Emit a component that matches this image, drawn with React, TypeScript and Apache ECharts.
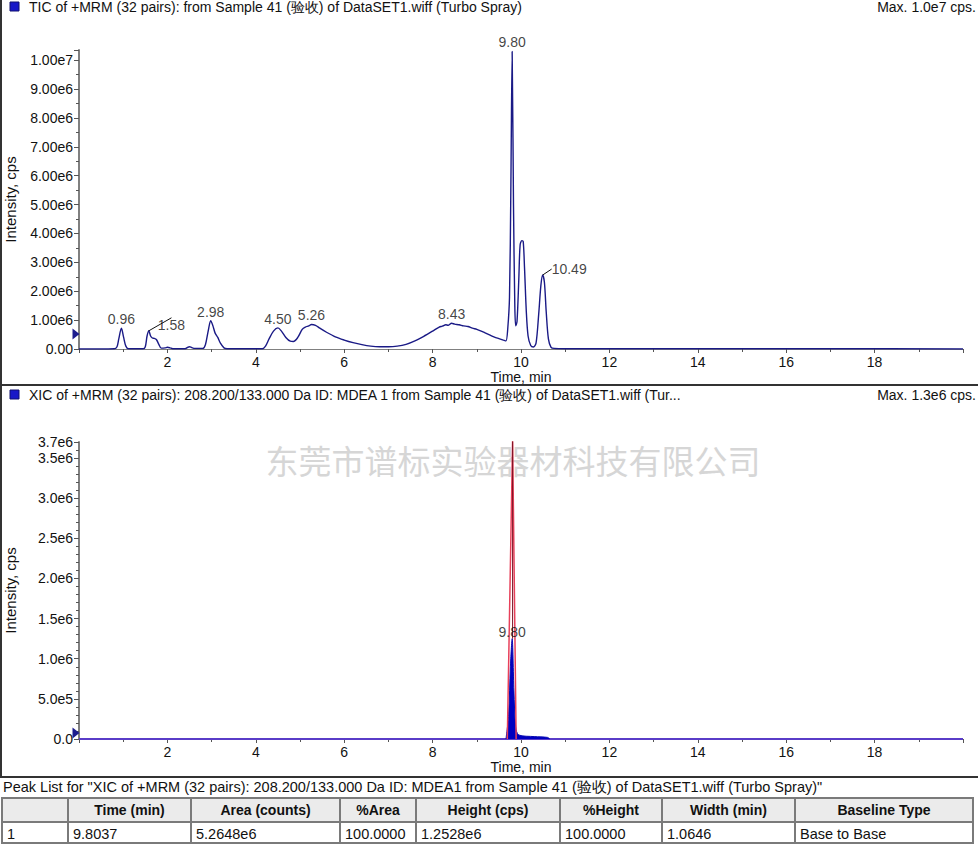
import React, { useEffect, useRef } from 'react';
import * as echarts from 'echarts';

// ---- TIC trace (top panel) ----
const ticTimes = [
  0.0, 0.8, 0.86, 0.9, 0.96, 1.01, 1.06, 1.12, 1.45, 1.5, 1.54, 1.58, 1.62, 1.66, 1.7, 1.75, 1.8, 1.86,
  1.95, 2.0, 2.06, 2.12, 2.4, 2.46, 2.5, 2.55, 2.62, 2.8, 2.86, 2.92, 2.98, 3.03, 3.08, 3.14, 3.2, 3.28,
  3.35, 4.15, 4.22, 4.3, 4.4, 4.5, 4.58, 4.68, 4.78, 4.85, 4.95, 5.05, 5.12, 5.2, 5.26, 5.35, 5.45, 5.6,
  5.8, 6.0, 6.2, 6.4, 6.6, 6.8, 7.0, 7.2, 7.4, 7.6, 7.8, 8.0, 8.15, 8.22, 8.3, 8.35, 8.43, 8.5, 8.6,
  8.7, 8.8, 8.9, 9.0, 9.1, 9.2, 9.3, 9.4, 9.5, 9.6, 9.66, 9.7, 9.74, 9.77, 9.8, 9.83, 9.86, 9.88, 9.91,
  9.95, 9.98, 10.02, 10.05, 10.08, 10.12, 10.16, 10.22, 10.28, 10.34, 10.4, 10.45, 10.49, 10.53, 10.57,
  10.62, 10.68, 10.75, 11.0, 13.0, 15.0, 17.0, 20.0,
];
const ticValues = [
  0, 0.01e6, 0.08e6, 0.35e6, 0.72e6, 0.4e6, 0.1e6, 0.01e6, 0.01e6, 0.08e6, 0.45e6, 0.63e6, 0.45e6, 0.38e6,
  0.37e6, 0.33e6, 0.18e6, 0.03e6, 0.04e6, 0.06e6, 0.04e6, 0.01e6, 0.01e6, 0.06e6, 0.08e6, 0.05e6, 0.02e6,
  0.02e6, 0.15e6, 0.6e6, 0.98e6, 0.8e6, 0.55e6, 0.4e6, 0.2e6, 0.04e6, 0.01e6, 0.01e6, 0.1e6, 0.35e6,
  0.62e6, 0.73e6, 0.62e6, 0.4e6, 0.27e6, 0.26e6, 0.4e6, 0.68e6, 0.76e6, 0.8e6, 0.85e6, 0.82e6, 0.72e6,
  0.58e6, 0.42e6, 0.31e6, 0.22e6, 0.15e6, 0.1e6, 0.08e6, 0.08e6, 0.1e6, 0.16e6, 0.28e6, 0.44e6, 0.62e6,
  0.76e6, 0.79e6, 0.84e6, 0.82e6, 0.89e6, 0.86e6, 0.84e6, 0.8e6, 0.78e6, 0.72e6, 0.68e6, 0.62e6, 0.55e6,
  0.48e6, 0.41e6, 0.36e6, 0.31e6, 0.28e6, 0.7e6, 1.8e6, 5.5e6, 10.3e6, 5.0e6, 1.5e6, 0.8e6, 0.95e6,
  2.4e6, 3.6e6, 3.75e6, 3.72e6, 2.8e6, 1.3e6, 0.45e6, 0.12e6, 0.07e6, 0.2e6, 1.2e6, 2.2e6, 2.56e6, 2.3e6,
  1.3e6, 0.35e6, 0.06e6, 0.02e6, 0.01e6, 0.01e6, 0.01e6, 0.01e6, 0,
];
const ticPeakTimes = [0.96, 2.98, 4.5, 5.26, 8.43, 9.8];
const ticPeakHeights = [0.72e6, 0.98e6, 0.73e6, 0.85e6, 0.89e6, 10.3e6];
const ticLeaderPeakTimes = [1.58, 10.49];
const ticLeaderPeakHeights = [0.63e6, 2.56e6];
const ticThreshold = 0.52e6;

// ---- XIC trace (bottom panel) ----
const xicBaseTimes = [0, 20];
const xicBaseValues = [0, 0];
const xicFillTimes = [9.66, 9.72, 9.76, 9.8, 9.84, 9.88, 9.95, 10.3, 10.6, 10.65];
const xicFillValues = [0, 0.3e6, 0.9e6, 1.25e6, 0.6e6, 0.15e6, 0.05e6, 0.03e6, 0.02e6, 0];
const xicFitTimes = [9.69, 9.81, 9.89];
const xicFitValues = [0, 3.72e6, 0];
const xicCenterTimes = [9.81, 9.81];
const xicCenterValues = [1.25e6, 3.72e6];
const xicPeakTimes = [9.8];
const xicPeakHeights = [1.25e6];
const xicThreshold = 0.075e6;

// ---- Header / table texts ----
const topTitle = 'TIC of +MRM (32 pairs): from Sample 41 (验收) of DataSET1.wiff (Turbo Spray)';
const topMax = 'Max. 1.0e7 cps.';
const bottomTitle = 'XIC of +MRM (32 pairs): 208.200/133.000 Da ID: MDEA 1 from Sample 41 (验收) of DataSET1.wiff (Tur...';
const bottomMax = 'Max. 1.3e6 cps.';
const watermark = '东莞市谱标实验器材科技有限公司';
const peakListTitle = 'Peak List for "XIC of +MRM (32 pairs): 208.200/133.000 Da ID: MDEA1 from Sample 41 (验收) of DataSET1.wiff (Turbo Spray)"';
const tableHeaders = ['', 'Time (min)', 'Area (counts)', '%Area', 'Height (cps)', '%Height', 'Width (min)', 'Baseline Type'];
const tableRow = ['1', '9.8037', '5.2648e6', '100.0000', '1.2528e6', '100.0000', '1.0646', 'Base to Base'];
const colEdges = [2, 68, 191, 340, 416, 560, 662, 795, 973];

const FONT = 'Liberation Sans, Arial, sans-serif';
const zip = (a: number[], b: number[]) => a.map((t, i) => [t, b[i]]);

function xAxis(gridIndex: number) {
  return {
    type: 'value', gridIndex, min: 0, max: 20, interval: 2,
    axisLine: { show: true, onZero: false, lineStyle: { color: '#808080', width: 1 } },
    axisTick: { show: true, length: 4, lineStyle: { color: '#555' } },
    minorTick: { show: true, splitNumber: 2, length: 3, lineStyle: { color: '#555' } },
    splitLine: { show: false },
    axisLabel: {
      color: '#111', fontSize: 14, fontFamily: FONT, margin: 6,
      formatter: (v: number) => (v === 0 || v === 20 ? '' : String(v)),
    },
    name: 'Time, min', nameLocation: 'middle', nameGap: 21,
    nameTextStyle: { color: '#111', fontSize: 14, fontFamily: FONT },
  };
}

function yAxis(gridIndex: number, max: number, interval: number, minorSplit: number, fmt: (v: number) => string) {
  return {
    type: 'value', gridIndex, min: 0, max, interval,
    axisLine: { show: true, lineStyle: { color: '#808080', width: 2 } },
    axisTick: { show: true, length: 5, lineStyle: { color: '#555' } },
    minorTick: { show: true, splitNumber: minorSplit, length: 3, lineStyle: { color: '#555' } },
    splitLine: { show: false },
    axisLabel: { color: '#111', fontSize: 14, fontFamily: FONT, margin: 6, formatter: fmt },
    name: 'Intensity, cps', nameLocation: 'middle', nameGap: 61,
    nameTextStyle: { color: '#111', fontSize: 15, fontFamily: FONT },
  };
}

const triMark = (v: number, color: string) => ({
  symbol: 'triangle', symbolSize: [11, 7], symbolRotate: -90, symbolOffset: [-3, 0],
  itemStyle: { color }, label: { show: false }, silent: true,
  data: [{ coord: [0, v] }],
});

export default function App() {
  const ref = useRef<HTMLDivElement>(null);
  useEffect(() => {
    if (!ref.current) return;
    const chart = echarts.init(ref.current, undefined, { renderer: 'svg' });

    const graphic: any[] = [];
    const txt = (x: number, y: number, text: string, o: any = {}) =>
      graphic.push({
        type: 'text', x, y, silent: true, z: o.z ?? 10,
        style: {
          text, fontSize: o.size ?? 14, fontFamily: o.family ?? FONT, fontWeight: o.weight ?? 'normal',
          fill: o.fill ?? '#111', align: o.align ?? 'left', verticalAlign: 'middle',
        },
      });
    const line = (x1: number, y1: number, x2: number, y2: number, color: string, w: number) =>
      graphic.push({ type: 'line', silent: true, shape: { x1, y1, x2, y2 }, style: { stroke: color, lineWidth: w }, z: 5 });

    // watermark
    txt(513, 460, watermark, { size: 33, fill: '#d6d6d6', align: 'center', family: 'Noto Sans CJK SC', z: 1 });

    // headers
    graphic.push({ type: 'rect', shape: { x: 10, y: 2, width: 9, height: 9 }, style: { fill: '#1818c8', stroke: '#101070', lineWidth: 1 }, z: 10 });
    txt(29, 7, topTitle);
    txt(976, 7, topMax, { align: 'right' });
    graphic.push({ type: 'rect', shape: { x: 10, y: 390, width: 9, height: 9 }, style: { fill: '#1818c8', stroke: '#101070', lineWidth: 1 }, z: 10 });
    txt(29, 395, bottomTitle);
    txt(976, 395, bottomMax, { align: 'right' });

    // borders / separators
    line(1, 0, 1, 777, '#333', 2);
    line(0, 385, 978, 385, '#333', 2);
    line(0, 777, 978, 777, '#333', 2);

    // peak list
    txt(3, 787, peakListTitle, { size: 14.5 });
    const rowTop = 798, rowMid = 822, rowBot = 843;
    for (let i = 0; i < colEdges.length - 1; i++) {
      const x0 = colEdges[i], x1 = colEdges[i + 1];
      graphic.push({ type: 'rect', silent: true, shape: { x: x0, y: rowTop, width: x1 - x0, height: rowMid - rowTop }, style: { fill: '#ebebeb', stroke: '#7a7a7a', lineWidth: 2 }, z: 6 });
      graphic.push({ type: 'rect', silent: true, shape: { x: x0, y: rowMid, width: x1 - x0, height: rowBot - rowMid }, style: { fill: '#ffffff', stroke: '#7a7a7a', lineWidth: 2 }, z: 6 });
      if (tableHeaders[i]) txt((x0 + x1) / 2, (rowTop + rowMid) / 2, tableHeaders[i], { weight: 'bold', align: 'center' });
      txt(x0 + 5, (rowMid + rowBot) / 2 + 1, tableRow[i], { size: 14.5 });
    }

    const peakLabel = { show: true, position: 'top', distance: 2, color: '#111', fontSize: 14, fontFamily: FONT, formatter: (p: any) => p.value[0].toFixed(2) };

    chart.setOption({
      animation: false,
      backgroundColor: '#ffffff',
      grid: [
        { left: 79, top: 50, width: 884, height: 299, outerBoundsMode: 'none', containLabel: false },
        { left: 79, top: 442, width: 884, height: 297, outerBoundsMode: 'none', containLabel: false },
      ],
      xAxis: [xAxis(0), xAxis(1)],
      yAxis: [
        yAxis(0, 1.035e7, 1e6, 2, (v: number) => (v === 0 ? '0.00' : v % 1e6 !== 0 ? '' : v.toExponential(2).replace('e+', 'e'))),
        yAxis(1, 3.7e6, 5e5, 5, (v: number) => (v === 0 ? '0.0' : v.toExponential(1).replace('e+', 'e'))),
      ],
      series: [
        {
          type: 'line', xAxisIndex: 0, yAxisIndex: 0, data: zip(ticTimes, ticValues), showSymbol: false,
          lineStyle: { color: '#1a1a86', width: 1.4 }, smooth: 0.3, clip: true, z: 3,
          markPoint: triMark(ticThreshold, '#1c1c8e'),
        },
        {
          type: 'scatter', xAxisIndex: 0, yAxisIndex: 0, data: zip(ticPeakTimes, ticPeakHeights), symbolSize: 0,
          label: peakLabel, z: 4,
        },
        {
          type: 'scatter', xAxisIndex: 0, yAxisIndex: 0, data: zip(ticLeaderPeakTimes, ticLeaderPeakHeights), symbolSize: 0,
          label: { ...peakLabel, position: 'right', distance: 0 },
          labelLayout: { dx: 9, dy: -6 },
          labelLine: { show: true, lineStyle: { color: '#111', width: 1 } },
          z: 4,
        },
        {
          type: 'line', xAxisIndex: 1, yAxisIndex: 1, data: zip(xicBaseTimes, xicBaseValues), showSymbol: false,
          lineStyle: { color: '#5a3cc8', width: 2 }, z: 2,
          markPoint: triMark(xicThreshold, '#1c1c8e'),
        },
        {
          type: 'line', xAxisIndex: 1, yAxisIndex: 1, data: zip(xicFillTimes, xicFillValues), showSymbol: false,
          lineStyle: { color: '#0a0ab0', width: 1 }, areaStyle: { color: '#0000c0', opacity: 1 }, smooth: 0.3, z: 3,
        },
        {
          type: 'line', xAxisIndex: 1, yAxisIndex: 1, data: zip(xicFitTimes, xicFitValues), showSymbol: false,
          lineStyle: { color: '#e8405a', width: 1.5 }, clip: true, z: 4,
        },
        {
          type: 'line', xAxisIndex: 1, yAxisIndex: 1, data: zip(xicCenterTimes, xicCenterValues), showSymbol: false,
          lineStyle: { color: '#7a1020', width: 1 }, clip: true, z: 4,
        },
        {
          type: 'scatter', xAxisIndex: 1, yAxisIndex: 1, data: zip(xicPeakTimes, xicPeakHeights), symbolSize: 0,
          label: { ...peakLabel, distance: 0 }, z: 5,
        },
      ],
      graphic,
    });
    return () => chart.dispose();
  }, []);
  return <div ref={ref} style={{ position: 'fixed', left: 0, top: 0, width: 978, height: 848, background: '#fff' }} />;
}
